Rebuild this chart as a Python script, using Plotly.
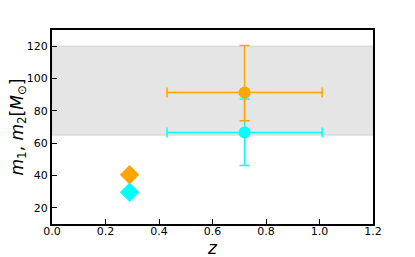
import plotly.graph_objects as go

# Data
z_err = [0.72]
m1_err = [91.4]
m1_err_plus = [29.0]
m1_err_minus = [17.5]
m2_err = [66.6]
m2_err_plus = [20.7]
m2_err_minus = [20.4]
z_err_x = [0.29]

z_dia = [0.29]
m1_dia = [40.4]
m2_dia = [29.6]

band_low, band_high = 65, 120

x_ticks = [0.0, 0.2, 0.4, 0.6, 0.8, 1.0, 1.2]
y_ticks = [20, 40, 60, 80, 100, 120]

orange = "#FFA500"
cyan = "#00FFFF"

fig = go.Figure()

fig.add_shape(type="rect", xref="paper", yref="y", x0=0, x1=1, y0=band_low, y1=band_high,
              fillcolor="rgb(229,229,229)", line=dict(color="rgb(210,210,210)", width=1), layer="below")

fig.add_trace(go.Scatter(
    x=z_err, y=m2_err, mode="markers",
    marker=dict(symbol="circle", size=12, color=cyan),
    error_x=dict(type="data", array=z_err_x, color=cyan, thickness=1.5, width=5),
    error_y=dict(type="data", array=m2_err_plus, arrayminus=m2_err_minus, color=cyan, thickness=1.5, width=5),
    showlegend=False))
fig.add_trace(go.Scatter(
    x=z_err, y=m1_err, mode="markers",
    marker=dict(symbol="circle", size=12, color=orange),
    error_x=dict(type="data", array=z_err_x, color=orange, thickness=1.5, width=5),
    error_y=dict(type="data", array=m1_err_plus, arrayminus=m1_err_minus, color=orange, thickness=1.5, width=5),
    showlegend=False))
fig.add_trace(go.Scatter(x=z_dia, y=m1_dia, mode="markers",
                         marker=dict(symbol="diamond", size=15, color=orange), showlegend=False))
fig.add_trace(go.Scatter(x=z_dia, y=m2_dia, mode="markers",
                         marker=dict(symbol="diamond", size=15, color=cyan), showlegend=False))

axis_common = dict(showline=True, mirror=True, linecolor="black", linewidth=2,
                   ticks="inside", ticklen=5, tickwidth=1, tickcolor="black",
                   showgrid=False, zeroline=False, automargin=False,
                   tickfont=dict(family="DejaVu Sans", size=11, color="black"))

fig.update_xaxes(range=[0, 1.2], tickvals=x_ticks, ticktext=[f"{v:.1f}" for v in x_ticks],
                 ticklabelstandoff=-4, **axis_common)
fig.update_yaxes(range=[10, 130], tickvals=y_ticks, **axis_common)

fig.add_annotation(text="<i>z</i>", xref="paper", yref="paper", x=0.5, y=0,
                   xanchor="center", yanchor="top", yshift=-12, showarrow=False,
                   font=dict(family="DejaVu Sans", size=17, color="black"))
fig.add_annotation(text="<i>m</i><sub>1</sub>, <i>m</i><sub>2</sub>[<i>M</i><sub>⊙</sub>]",
                   xref="paper", yref="paper", x=0, y=0.5, textangle=-90,
                   xanchor="right", yanchor="middle", xshift=-21, showarrow=False,
                   font=dict(family="DejaVu Sans", size=17, color="black"))

# page body has an 8px margin; figure is sized so the plot area lands where the reference has it
fig.update_layout(width=407, height=249, margin=dict(l=44, r=42, t=22, b=33),
                  paper_bgcolor="white", plot_bgcolor="white")

fig.write_html("out.html")
